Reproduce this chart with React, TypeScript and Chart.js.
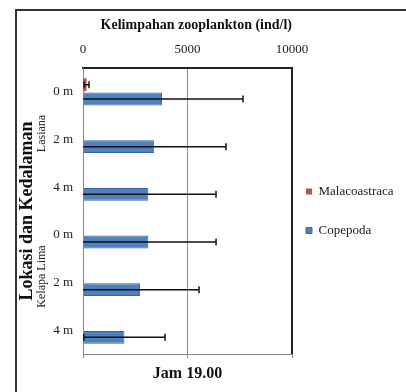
import React, { useEffect, useRef } from "react";
import { Chart, registerables } from "chart.js";

Chart.register(...registerables);

const categories = ["0 m", "2 m", "4 m", "0 m", "2 m", "4 m"];
const groups = ["Lasiana", "Kelapa Lima"];
const groupSize = 3;
const seriesNames = ["Malacoastraca", "Copepoda"];
const malacostraca = [170, 0, 0, 0, 0, 0];
const malacostracaErr = [120, 0, 0, 0, 0, 0];
const copepoda = [3780, 3410, 3125, 3125, 2730, 1980];
const copepodaErr = [3875, 3430, 3240, 3240, 2820, 1945];
const xTicks = [0, 5000, 10000];
const xTitle = "Kelimpahan zooplankton (ind/l)";
const yTitle = "Lokasi dan Kedalaman";
const bottomTitle = "Jam 19.00";

const SERIF = '"Liberation Serif", "DejaVu Serif", serif';

const errorBarsPlugin = {
  id: "errorBars",
  afterDatasetsDraw(chart: any) {
    const ctx = chart.ctx;
    const xs = chart.scales.x;
    chart.data.datasets.forEach((ds: any, i: number) => {
      const errs = ds.errors as number[] | undefined;
      if (!errs) return;
      const meta = chart.getDatasetMeta(i);
      meta.data.forEach((bar: any, j: number) => {
        const v = ds.data[j] as number;
        const e = errs[j];
        if (!e) return;
        const lo = Math.max(xs.min, v - e);
        const hi = v + e;
        const x0 = xs.getPixelForValue(lo);
        const x1 = xs.getPixelForValue(hi);
        const y = bar.y;
        ctx.save();
        ctx.strokeStyle = "#111";
        ctx.lineWidth = 1.5;
        ctx.beginPath();
        ctx.moveTo(x0, y);
        ctx.lineTo(x1, y);
        ctx.moveTo(x1, y - 3.5);
        ctx.lineTo(x1, y + 3.5);
        if (v - e >= xs.min) {
          ctx.moveTo(x0, y - 3.5);
          ctx.lineTo(x0, y + 3.5);
        }
        ctx.stroke();
        ctx.restore();
      });
    });
  },
};

const decorPlugin = {
  id: "decor",
  beforeDraw(chart: any) {
    if (chart.legend) {
      chart.legend.left = chart.chartArea.right - 12;
    }
  },
  afterDraw(chart: any) {
    const ctx = chart.ctx;
    const area = chart.chartArea;
    const ys = chart.scales.y;
    ctx.save();
    ctx.strokeStyle = "#222";
    ctx.lineWidth = 2;
    ctx.beginPath();
    ctx.moveTo(area.right, area.top - 1);
    ctx.lineTo(area.right, area.bottom);
    ctx.stroke();
    ctx.restore();
    groups.forEach((g, gi) => {
      const a = ys.getPixelForValue(gi * groupSize);
      const b = ys.getPixelForValue(gi * groupSize + groupSize - 1);
      const cy = (a + b) / 2 - 6;
      ctx.save();
      ctx.translate(ys.left + 25, cy);
      ctx.rotate(-Math.PI / 2);
      ctx.textAlign = "center";
      ctx.textBaseline = "middle";
      ctx.font = `12px ${SERIF}`;
      ctx.fillStyle = "#222";
      ctx.fillText(g, 0, 0);
      ctx.restore();
    });
  },
};

export default function App() {
  const ref = useRef<HTMLCanvasElement | null>(null);

  useEffect(() => {
    if (!ref.current) return;
    const chart = new Chart(ref.current, {
      type: "bar",
      data: {
        labels: categories,
        datasets: [
          {
            label: seriesNames[0],
            data: malacostraca,
            errors: malacostracaErr,
            backgroundColor: "#C0504D",
            borderColor: "#A03C3A",
            borderWidth: 0,
          } as any,
          {
            label: seriesNames[1],
            data: copepoda,
            errors: copepodaErr,
            backgroundColor: "#4F81BD",
            borderColor: "#3A67A0",
            borderWidth: 1,
          } as any,
        ],
      },
      options: {
        indexAxis: "y",
        responsive: false,
        animation: false,
        maintainAspectRatio: false,
        font: { family: SERIF },
        datasets: {
          bar: { barPercentage: 0.9, categoryPercentage: 0.6 },
        },
        layout: { padding: { left: 17, top: 12, right: 0, bottom: 8.4 } },
        scales: {
          x: {
            type: "linear",
            position: "top",
            min: xTicks[0],
            max: xTicks[xTicks.length - 1],
            ticks: {
              stepSize: xTicks[1] - xTicks[0],
              padding: 11,
              color: "#222",
              font: { family: SERIF, size: 13 },
              callback: (v: any) => String(v),
            },
            grid: { color: "#8a8a8a", lineWidth: 1, drawTicks: false, tickLength: 0 },
            border: { display: true, color: "#222", width: 2 },
            title: {
              display: true,
              text: xTitle,
              align: "end",
              color: "#111",
              font: { family: SERIF, size: 14, weight: "bold" },
              padding: { top: 4.6, bottom: -3 },
            },
          },
          x2: {
            type: "linear",
            position: "bottom",
            min: xTicks[0],
            max: xTicks[xTicks.length - 1],
            ticks: { display: false, stepSize: xTicks[1] - xTicks[0] },
            grid: {
              drawOnChartArea: false,
              drawTicks: true,
              tickLength: 4,
              color: "#8a8a8a",
            },
            border: { display: true, color: "#8a8a8a", width: 1 },
            title: {
              display: true,
              text: bottomTitle,
              color: "#111",
              font: { family: SERIF, size: 16, weight: "bold" },
              padding: { top: 6.4, bottom: 0 },
            },
          },
          y: {
            type: "category",
            afterFit: (scale: any) => {
              scale.width = 66;
            },
            ticks: {
              padding: 10,
              color: "#222",
              font: { family: SERIF, size: 13 },
            },
            grid: { display: false, drawTicks: false },
            border: { display: true, color: "#8a8a8a", width: 1 },
            title: {
              display: true,
              text: yTitle,
              color: "#111",
              font: { family: SERIF, size: 18, weight: "bold" },
              padding: { top: 0, bottom: 0 },
            },
          },
        } as any,
        plugins: {
          legend: {
            display: true,
            position: "right",
            fullSize: false,
            maxWidth: 114,
            labels: {
              boxWidth: 6,
              boxHeight: 6,
              padding: 26,
              color: "#222",
              font: { family: SERIF, size: 13 },
            },
          },
          title: { display: false },
          tooltip: { enabled: false },
        },
      } as any,
      plugins: [errorBarsPlugin, decorPlugin],
    });
    return () => chart.destroy();
  }, []);

  return (
    <div style={{ position: "fixed", left: 0, top: 0, width: 406, height: 392, background: "#fff", overflow: "hidden" }}>
      <div
        style={{
          position: "absolute",
          left: 15,
          top: 9,
          width: 500,
          height: 500,
          borderTop: "2px solid #333",
          borderLeft: "2px solid #333",
        }}
      />
      <canvas ref={ref} width={406} height={392} style={{ position: "absolute", left: 0, top: 0 }} />
    </div>
  );
}
